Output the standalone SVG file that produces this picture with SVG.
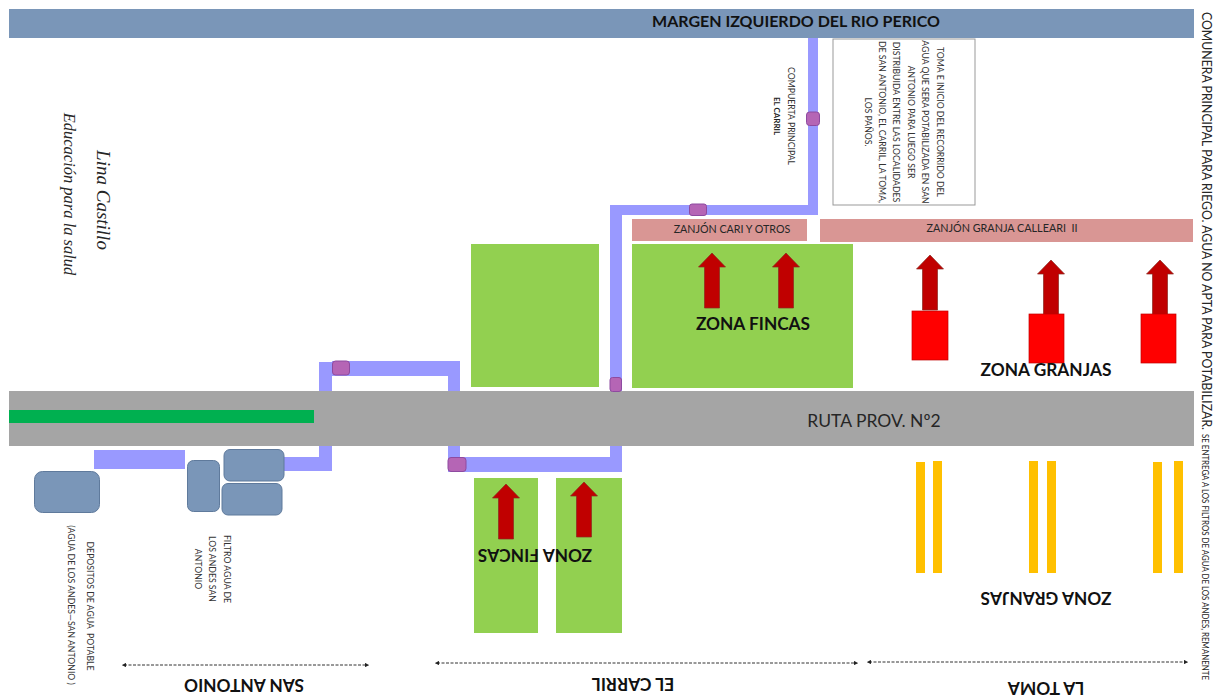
<svg xmlns="http://www.w3.org/2000/svg" width="1229" height="699" viewBox="0 0 1229 699">
<style>
text{font-family:Lato,"Liberation Sans",sans-serif;fill:#262626;text-anchor:middle}
.b{font-weight:700;fill:#111;font-size:17.300px}
.s{font-size:8.700px;fill:#333}
.pipe{fill:#9999ff}
.valve{fill:#b565b5;stroke:#8e4aa0;stroke-width:1}
.green{fill:#92d050}
.pink{fill:#d99694}
.blue{fill:#7a96b8;stroke:#5f7a9c;stroke-width:1}
.arrow{fill:#c00000;stroke:#8a2a20;stroke-width:.7}
.red{fill:#ff0000;stroke:#c00000;stroke-width:.7}
.yellow{fill:#ffc000}
.dim{fill:none;stroke:#333;stroke-width:1;stroke-dasharray:3 1.5;marker-start:url(#m);marker-end:url(#m)}
</style>
<defs>
<marker id="m" viewBox="0 0 6 6" refX="3" refY="3" markerWidth="4.500" markerHeight="4.500" orient="auto-start-reverse"><path d="M0 0L6 3L0 6Z" fill="#222"/></marker>
<path id="ar" d="M0 0L13.500 14H7.500V55H-7.500V14H-13.500Z"/>
</defs>
<rect width="1229" height="699" fill="#fff"/>
<g id="rio"><rect x="9" y="9" width="1185" height="29" fill="#7a96b8"/><text x="796" y="26.500" font-size="16" font-weight="700" style="fill:#111">MARGEN IZQUIERDO DEL RIO PERICO</text></g>
<g id="connectors">
<path class="pipe" d="M808 38H818V215H622V391H610V205H808Z"/>
<path class="pipe" d="M319 362H332V361H460V391H448V376H332V391H319Z"/>
<path class="pipe" d="M319 446H332V471H284V457H319Z"/>
<path class="pipe" d="M448 446H460V457H610V446H622V472H448Z"/>
<rect class="pipe" x="94" y="450" width="91" height="19"/>
<path class="dim" d="M124 665H367"/>
<path class="dim" d="M437 663H856"/>
<path class="dim" d="M869 662H1186"/>
</g>
<g id="ruta"><rect x="9" y="391" width="1185" height="55" fill="#a5a5a5"/><rect x="9" y="410" width="305" height="13" fill="#00b050"/><text x="874" y="427" font-size="17.500">RUTA PROV. Nº2</text></g>
<g id="compuertas">
<rect class="valve" x="332.500" y="361" width="17" height="14" rx="3"/>
<rect class="valve" x="448" y="457.500" width="18" height="14" rx="3"/>
<rect class="valve" x="610" y="377.500" width="11.500" height="14" rx="2.500"/>
<rect class="valve" x="689.500" y="204" width="17" height="11.500" rx="2.500"/>
<rect class="valve" x="806.500" y="112" width="13" height="13.500" rx="3"/>
</g>
<g id="nota"><rect x="833" y="39" width="142" height="166" fill="#fff" stroke="#999" stroke-width="1"/>
<g transform="translate(937 122) rotate(90)">
<text y="0" class="s">TOMA E INICIO DEL RECORRIDO DEL</text>
<text y="15" class="s">AGUA QUE SERA POTABILIZADA EN SAN</text>
<text y="29.500" class="s">ANTONIO PARA LUEGO SER</text>
<text y="44" class="s">DISTRIBUIDA ENTRE LAS LOCALIDADES</text>
<text y="58" class="s">DE SAN ANTONIO, EL CARRIL, LA TOMA,</text>
<text y="72" class="s">LOS PAÑOS.</text>
</g></g>
<g id="compuerta-label" transform="translate(788 116) rotate(90)"><text class="s">COMPUERTA PRINCIPAL</text><text y="14" class="s" style="font-weight:700;font-size:8px;fill:#222">EL CARRIL</text></g>
<g id="zanjones"><rect class="pink" x="632" y="219" width="175" height="22"/><text x="732" y="233" font-size="10.700">ZANJÓN CARI Y OTROS</text>
<rect class="pink" x="820" y="219" width="373" height="23"/><text x="1002" y="232" font-size="10.800" xml:space="preserve">ZANJÓN GRANJA CALLEARI  II</text></g>
<g id="fincas-norte"><rect class="green" x="471" y="244" width="128" height="143"/><rect class="green" x="632" y="244" width="221" height="144"/>
<use href="#ar" class="arrow" x="712" y="253"/><use href="#ar" class="arrow" x="786" y="253"/>
<text class="b" x="753" y="330">ZONA FINCAS</text></g>
<g id="granjas-norte">
<use href="#ar" class="arrow" x="930" y="255"/><rect class="red" x="912" y="311" width="36" height="49"/>
<use href="#ar" class="arrow" x="1051" y="260"/><rect class="red" x="1029" y="314" width="35" height="49"/>
<use href="#ar" class="arrow" x="1160" y="260"/><rect class="red" x="1141" y="314" width="35" height="49"/>
<text class="b" x="1046" y="376">ZONA GRANJAS</text></g>
<g id="fincas-sur"><rect class="green" x="474" y="478" width="64" height="155"/><rect class="green" x="556" y="478" width="66" height="155"/>
<use href="#ar" class="arrow" x="506" y="484"/><use href="#ar" class="arrow" x="584" y="482"/>
<text class="b" transform="translate(535 549) rotate(180)">ZONA FINCAS</text></g>
<g id="granjas-sur"><rect class="yellow" x="916" y="462" width="9" height="111"/><rect class="yellow" x="933" y="461" width="9" height="112"/>
<rect class="yellow" x="1029" y="461" width="9" height="112"/><rect class="yellow" x="1047" y="461" width="9" height="112"/>
<rect class="yellow" x="1153" y="462" width="9" height="111"/><rect class="yellow" x="1174" y="461" width="9" height="112"/>
<text class="b" transform="translate(1046 592) rotate(180)">ZONA GRANJAS</text></g>
<g id="depositos"><rect class="blue" x="34.500" y="471.500" width="65" height="41" rx="8"/><text class="s" transform="translate(87 606) rotate(90)" xml:space="preserve">DEPOSITOS DE AGUA  POTABLE</text><text class="s" transform="translate(68 605) rotate(90)">(AGUA DE LOS ANDES—SAN ANTONIO )</text></g>
<g id="filtro"><rect class="blue" x="187.500" y="460.500" width="32" height="51" rx="6"/><rect class="blue" x="224" y="449.500" width="60" height="31.500" rx="6"/><rect class="blue" x="222" y="483.500" width="60" height="31.500" rx="6"/>
<text class="s" transform="translate(224 569) rotate(90)">FILTRO AGUA DE</text><text class="s" transform="translate(209 569) rotate(90)">LOS ANDES SAN</text><text class="s" transform="translate(195 569) rotate(90)">ANTONIO</text></g>
<g id="zonas"><text class="b" transform="translate(244 679) rotate(180)">SAN ANTONIO</text><text class="b" transform="translate(633 678) rotate(180)">EL CARRIL</text><text class="b" transform="translate(1046 682) rotate(180)">LA TOMA</text></g>
<g id="firma"><text transform="translate(97 200) rotate(90)" font-size="19" font-style="italic" style="font-family:'Liberation Serif',serif">Lina Castillo</text><text transform="translate(64 194) rotate(90)" font-size="16.500" font-style="italic" style="font-family:'Liberation Serif',serif">Educación para la salud</text></g>
<g id="comunera" transform="translate(1202 0) rotate(90)"><text x="12" font-size="14" style="text-anchor:start" textLength="418" lengthAdjust="spacingAndGlyphs">COMUNERA PRINCIPAL PARA RIEGO. AGUA NO APTA PARA POTABILIZAR.</text><text x="434" font-size="8.500" style="text-anchor:start" textLength="246" lengthAdjust="spacingAndGlyphs">SE ENTREGA A LOS FILTROS DE AGUA DE LOS ANDES, REMANENTE</text></g>
</svg>
